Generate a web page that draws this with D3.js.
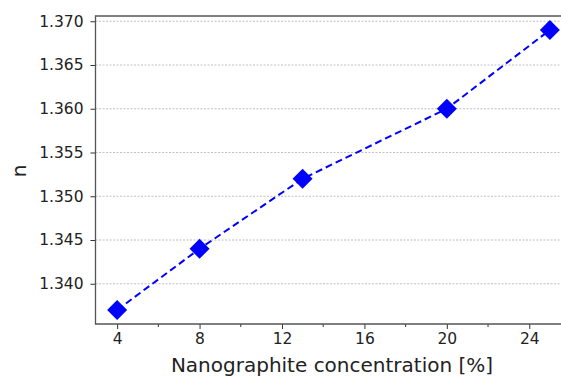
<!DOCTYPE html>
<html>
<head>
<meta charset="utf-8">
<script src="https://cdn.jsdelivr.net/npm/d3@7"></script>
<style>
  body { margin: 0; background: #fff; }
  svg { display: block; font-family: "DejaVu Sans", sans-serif; }
</style>
</head>
<body>
<div id="chart"></div>
<script>
// data
const concentration = [4, 8, 13, 20, 25];
const refIndex = [1.337, 1.344, 1.352, 1.360, 1.369];
const xTicks = [4, 8, 12, 16, 20, 24];
const xMinorTicks = [6, 10, 14, 18, 22];
const yTicks = [1.340, 1.345, 1.350, 1.355, 1.360, 1.365, 1.370];

const width = 561, height = 376;
const plotLeft = 95.5, plotTop = 16, plotBottom = 324, plotRight = 571.5; // right spine falls outside the frame

const svg = d3.select('#chart').append('svg')
    .attr('width', width)
    .attr('height', height);

const x = d3.scaleLinear().domain([2.95, 26.05]).range([plotLeft, plotRight]);
const y = d3.scaleLinear().domain([1.3354, 1.3706]).range([plotBottom, plotTop]);

// horizontal grid
svg.append('g')
    .selectAll('line')
    .data(yTicks)
    .join('line')
    .attr('x1', plotLeft).attr('x2', plotRight)
    .attr('y1', d => y(d)).attr('y2', d => y(d))
    .attr('stroke', '#b0b0b0')
    .attr('stroke-width', 0.8)
    .attr('stroke-dasharray', '2,1.5');

// x axis
const xAxis = svg.append('g')
    .attr('transform', `translate(0,${plotBottom})`)
    .call(d3.axisBottom(x).tickValues(xTicks).tickSize(5).tickPadding(4).tickFormat(d3.format('d')));
xAxis.append('g')
    .selectAll('line')
    .data(xMinorTicks)
    .join('line')
    .attr('x1', d => x(d)).attr('x2', d => x(d))
    .attr('y1', 0).attr('y2', 3)
    .attr('stroke', '#333');

// y axis
const yAxis = svg.append('g')
    .attr('transform', `translate(${plotLeft},0)`)
    .call(d3.axisLeft(y).tickValues(yTicks).tickSize(5).tickPadding(7).tickFormat(d3.format('.3f')));

[xAxis, yAxis].forEach(a => {
    a.attr('font-family', '"DejaVu Sans", sans-serif').attr('font-size', 15.5);
    a.select('.domain').remove();
    a.selectAll('.tick line').attr('stroke', '#333');
    a.selectAll('.tick text').attr('fill', '#222');
});

// spines
svg.append('path')
    .attr('d', `M${plotRight},${plotTop}H${plotLeft}V${plotBottom}H${plotRight}`)
    .attr('fill', 'none')
    .attr('stroke', '#555')
    .attr('stroke-width', 1.3);

// series
const pts = concentration.map((c, i) => [c, refIndex[i]]);

svg.append('path')
    .datum(pts)
    .attr('d', d3.line().x(d => x(d[0])).y(d => y(d[1])))
    .attr('fill', 'none')
    .attr('stroke', '#0000ff')
    .attr('stroke-width', 2)
    .attr('stroke-dasharray', '7,4');

const r = 10;
svg.append('g')
    .selectAll('path')
    .data(pts)
    .join('path')
    .attr('transform', d => `translate(${x(d[0])},${y(d[1])})`)
    .attr('d', `M0,${-r}L${r},0L0,${r}L${-r},0Z`)
    .attr('fill', '#0000ff');

// labels
svg.append('text')
    .attr('x', 332)
    .attr('y', 372)
    .attr('text-anchor', 'middle')
    .attr('fill', '#222')
    .style('font-size', '20px')
    .text('Nanographite concentration [%]');

svg.append('text')
    .attr('transform', `translate(26,171) rotate(-90)`)
    .attr('text-anchor', 'middle')
    .attr('fill', '#222')
    .style('font-size', '20px')
    .text('n');
</script>
</body>
</html>
